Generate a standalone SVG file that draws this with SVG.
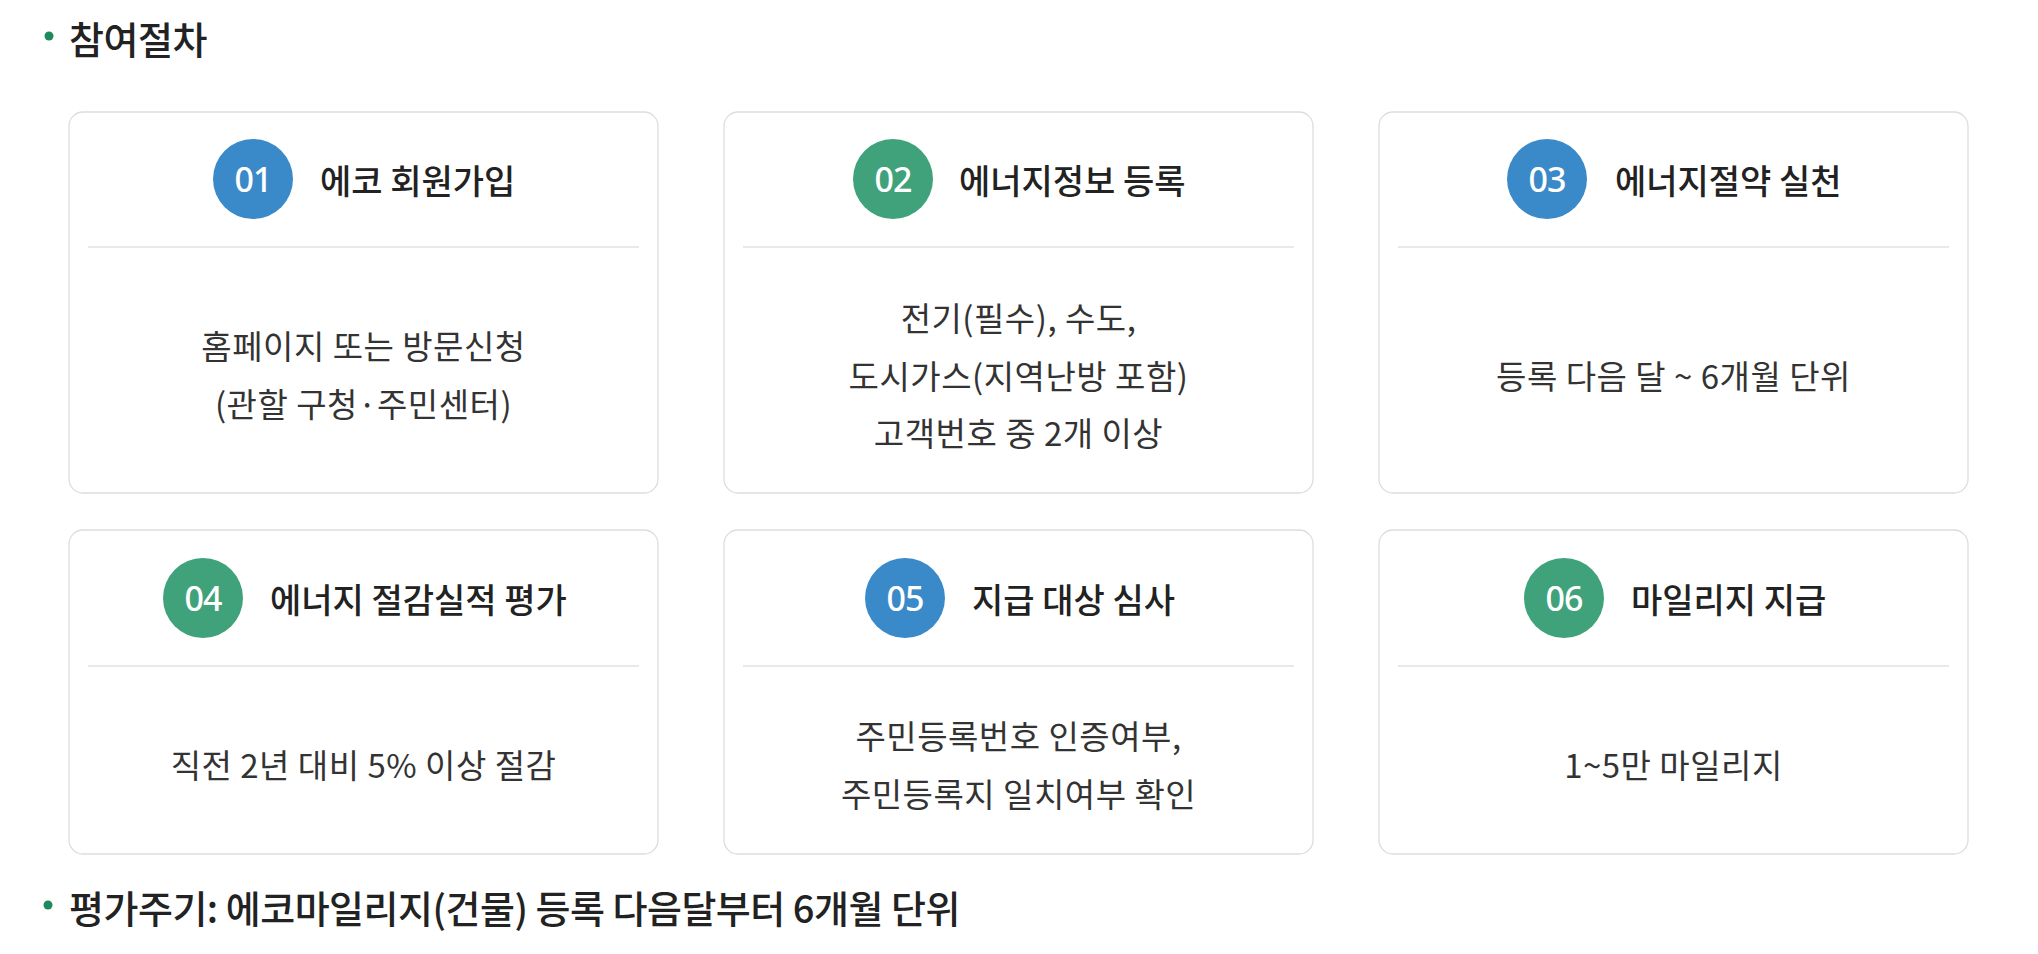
<svg xmlns="http://www.w3.org/2000/svg" width="2038" height="954" viewBox="0 0 2038 954">
<defs>
<style>
.card{fill:#fff;stroke:#dddddd;stroke-width:1.3}
.sep{stroke:#e2e2e2;stroke-width:1.3}
.blue{fill:#3a89c9}
.green{fill:#40a27b}
.num{font-family:"Noto Sans","Open Sans",sans-serif;font-size:34px;font-weight:500;fill:#fff;text-anchor:middle;dominant-baseline:central;letter-spacing:-1px}
.title{font-family:"Noto Sans CJK KR","Noto Sans",sans-serif;font-size:34px;font-weight:500;fill:#222;dominant-baseline:central;letter-spacing:0px}
.body{font-family:"Noto Sans CJK KR","Noto Sans",sans-serif;font-size:33px;font-weight:400;fill:#333;text-anchor:middle;dominant-baseline:central;letter-spacing:0.5px}
.head{font-family:"Noto Sans CJK KR","Noto Sans",sans-serif;font-size:38px;font-weight:500;fill:#222;dominant-baseline:central;letter-spacing:-0.5px}
.dot{fill:#1d8a5d}
</style>
</defs>
<rect width="2038" height="954" fill="#fff"/>
<g id="heading">
<circle class="dot" cx="49" cy="36" r="4.5"/>
<text class="head" x="69" y="37">참여절차</text>
</g>
<g id="connectors"></g>
<g id="step01">
<rect class="card" x="69" y="112" width="589" height="381" rx="14"/>
<circle class="blue" cx="253" cy="179" r="40"/>
<text class="num" x="253" y="179">01</text>
<text class="title" x="320" y="179">에코 회원가입</text>
<line class="sep" x1="88" y1="247" x2="639" y2="247"/>
<text class="body" x="363.5" y="345">홈페이지 또는 방문신청</text>
<text class="body" x="363.5" y="403">(관할 구청·주민센터)</text>
</g>
<g id="step02">
<rect class="card" x="724" y="112" width="589" height="381" rx="14"/>
<circle class="green" cx="893" cy="179" r="40"/>
<text class="num" x="893" y="179">02</text>
<text class="title" x="959" y="179">에너지정보 등록</text>
<line class="sep" x1="743" y1="247" x2="1294" y2="247"/>
<text class="body" x="1018.5" y="317">전기(필수), 수도,</text>
<text class="body" x="1018.5" y="375">도시가스(지역난방 포함)</text>
<text class="body" x="1018.5" y="432">고객번호 중 2개 이상</text>
</g>
<g id="step03">
<rect class="card" x="1379" y="112" width="589" height="381" rx="14"/>
<circle class="blue" cx="1547" cy="179" r="40"/>
<text class="num" x="1547" y="179">03</text>
<text class="title" x="1615" y="179">에너지절약 실천</text>
<line class="sep" x1="1398" y1="247" x2="1949" y2="247"/>
<text class="body" x="1673.5" y="375">등록 다음 달 ~ 6개월 단위</text>
</g>
<g id="step04">
<rect class="card" x="69" y="530" width="589" height="324" rx="14"/>
<circle class="green" cx="203" cy="598" r="40"/>
<text class="num" x="203" y="598">04</text>
<text class="title" x="270" y="598">에너지 절감실적 평가</text>
<line class="sep" x1="88" y1="666" x2="639" y2="666"/>
<text class="body" x="363.5" y="764">직전 2년 대비 5% 이상 절감</text>
</g>
<g id="step05">
<rect class="card" x="724" y="530" width="589" height="324" rx="14"/>
<circle class="blue" cx="905" cy="598" r="40"/>
<text class="num" x="905" y="598">05</text>
<text class="title" x="972" y="598">지급 대상 심사</text>
<line class="sep" x1="743" y1="666" x2="1294" y2="666"/>
<text class="body" x="1018.5" y="735">주민등록번호 인증여부,</text>
<text class="body" x="1018.5" y="793">주민등록지 일치여부 확인</text>
</g>
<g id="step06">
<rect class="card" x="1379" y="530" width="589" height="324" rx="14"/>
<circle class="green" cx="1564" cy="598" r="40"/>
<text class="num" x="1564" y="598">06</text>
<text class="title" x="1631" y="598">마일리지 지급</text>
<line class="sep" x1="1398" y1="666" x2="1949" y2="666"/>
<text class="body" x="1673.5" y="764">1~5만 마일리지</text>
</g>
<g id="footer">
<circle class="dot" cx="48" cy="905" r="4.5"/>
<text class="head" x="69" y="906">평가주기: 에코마일리지(건물) 등록 다음달부터 6개월 단위</text>
</g>
</svg>
